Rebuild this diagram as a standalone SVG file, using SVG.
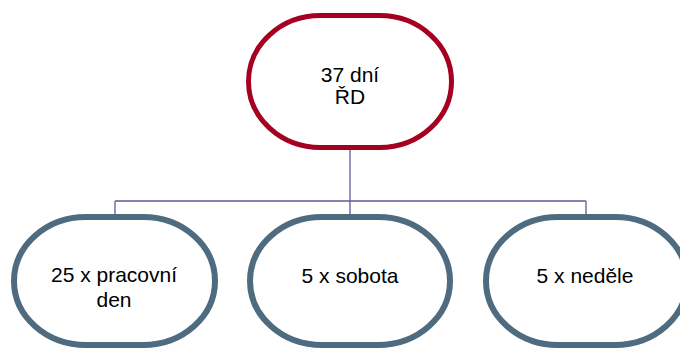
<svg xmlns="http://www.w3.org/2000/svg" width="680" height="349" viewBox="0 0 680 349">
<style>
.top{fill:#fff;stroke:#A50021;stroke-width:5}
.sub{fill:#fff;stroke:#4E6B7F;stroke-width:6}
.t{font-family:"Liberation Sans",Arial,sans-serif;font-size:21px;fill:#000;text-anchor:middle}
.c{fill:none;stroke:#5E5A99;stroke-width:1.3}
</style>
<rect width="680" height="349" fill="#fff"/>
<g id="connectors">
<path class="c" d="M350 148V216M115 201H586M115 201V216M586 201V216"/>
</g>
<g id="n0">
<rect class="top" x="248.5" y="15.5" width="203" height="132" rx="72" ry="66"/>
<text class="t" x="350" y="81.5">37 dní</text>
<text class="t" x="350" y="103.5">ŘD</text>
</g>
<g id="n1">
<rect class="sub" x="14" y="217" width="201" height="128" rx="72" ry="64"/>
<text class="t" x="114" y="282">25 x pracovní</text>
<text class="t" x="114" y="307">den</text>
</g>
<g id="n2">
<rect class="sub" x="250" y="217" width="200" height="128" rx="72" ry="64"/>
<text class="t" x="350" y="282.5">5 x sobota</text>
</g>
<g id="n3">
<rect class="sub" x="486" y="217" width="201" height="128" rx="72" ry="64"/>
<text class="t" x="585" y="282.5">5 x neděle</text>
</g>
</svg>
